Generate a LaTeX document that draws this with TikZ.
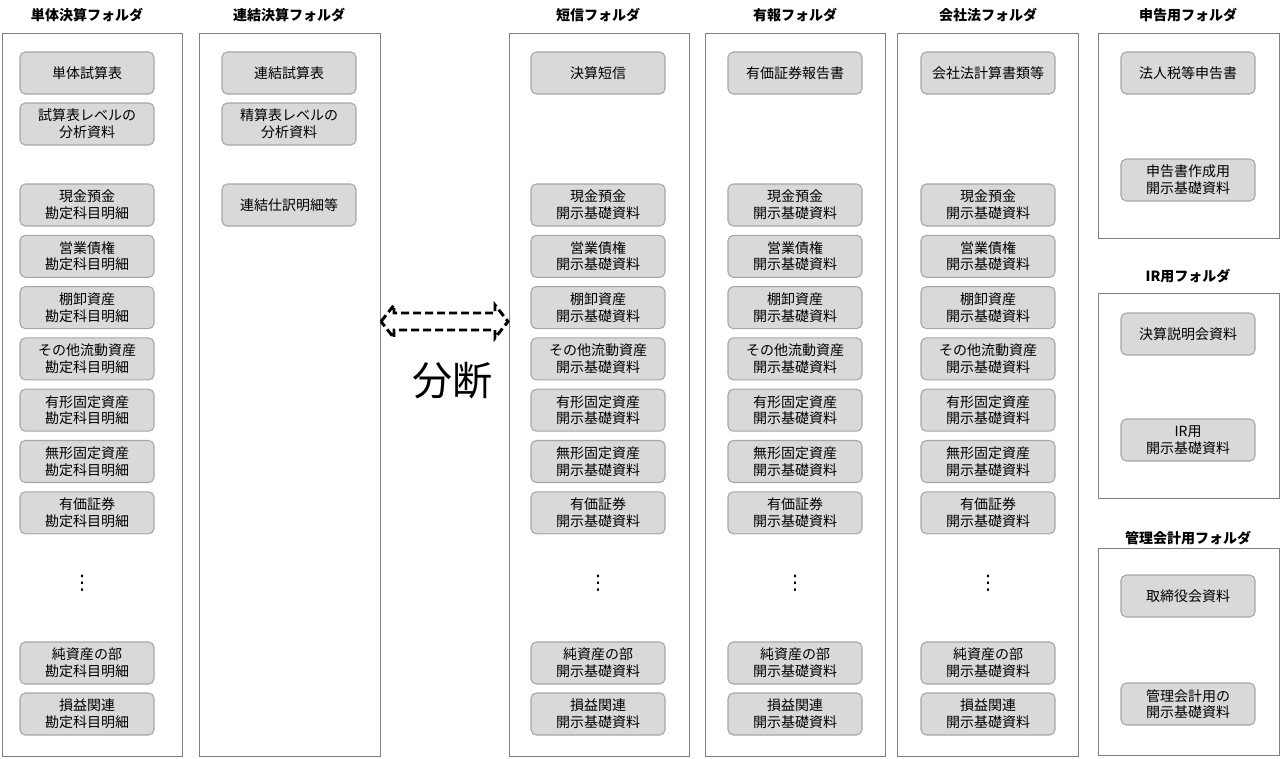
\documentclass[tikz,border=0pt]{standalone}
\usepackage{fontspec}
\newfontfamily\jp{Noto Sans CJK JP}
\newfontfamily\dvs{DejaVu Sans}
\begin{document}
\begin{tikzpicture}[x=0.75pt,y=-0.75pt,
  frame/.style={draw=black!50,line width=0.6pt},
  item/.style={draw=black!35,fill=black!15,rounded corners=4pt,minimum width=134*0.75pt,minimum height=42*0.75pt,inner sep=0pt,align=center,font=\jp\fontsize{10.5}{12.5}\selectfont,line width=0.8pt},
  ttl/.style={font=\jp\bfseries\fontsize{10.5}{12}\selectfont},
  dots/.style={font=\dvs\fontsize{15}{15}\selectfont}]
\useasboundingbox (0,0) rectangle (1280,758);
% frames
\draw[frame] (2,33) rectangle (182,756);
\draw[frame] (199,33) rectangle (380,756);
\draw[frame] (509,33) rectangle (689,756);
\draw[frame] (705,33) rectangle (885,756);
\draw[frame] (897,33) rectangle (1078,756);
\draw[frame] (1098,33) rectangle (1279,238);
\draw[frame] (1098,293) rectangle (1279,498);
\draw[frame] (1098,548) rectangle (1279,755);
% titles
\node[ttl] (t1) at (87,15) {単体決算フォルダ};
\node[ttl] (t2) at (289,15) {連結決算フォルダ};
\node[ttl] (t3) at (598,15) {短信フォルダ};
\node[ttl] (t4) at (795,15) {有報フォルダ};
\node[ttl] (t5) at (988,15) {会社法フォルダ};
\node[ttl] (t6) at (1188,15) {申告用フォルダ};
\node[ttl] (t7) at (1188,276) {IR用フォルダ};
\node[ttl] (t8) at (1188,538) {管理会計用フォルダ};
% column 1
\node[item] (a1) at (87,73) {単体試算表};
\node[item] (a2) at (87,124) {試算表レベルの\\分析資料};
\foreach \t [count=\i] in {現金預金,営業債権,棚卸資産,その他流動資産,有形固定資産,無形固定資産,有価証券}{
  \node[item] (ac\i) at (87,205+51.3*\i-51.3) {\t\\勘定科目明細};
  \node[item] (bc\i) at (598,205+51.3*\i-51.3) {\t\\開示基礎資料};
  \node[item] (cc\i) at (795,205+51.3*\i-51.3) {\t\\開示基礎資料};
  \node[item] (dc\i) at (988,205+51.3*\i-51.3) {\t\\開示基礎資料};
}
\foreach \c/\x in {a/82,b/598,c/795,d/988}{
  \node[dots] (\c dots) at (\x,583) {⋮};
}
\node[item] (a8) at (87,663) {純資産の部\\勘定科目明細};
\node[item] (a9) at (87,714) {損益関連\\勘定科目明細};
\foreach \c/\x in {b/598,c/795,d/988}{
  \node[item] (\c8) at (\x,663) {純資産の部\\開示基礎資料};
  \node[item] (\c9) at (\x,714) {損益関連\\開示基礎資料};
}
% column 2
\node[item] (e1) at (289,73) {連結試算表};
\node[item] (e2) at (289,124) {精算表レベルの\\分析資料};
\node[item] (e3) at (289,205) {連結仕訳明細等};
% tops
\node[item] (b0) at (598,73) {決算短信};
\node[item] (c0) at (795,73) {有価証券報告書};
\node[item] (d0) at (988,73) {会社法計算書類等};
% right
\node[item] (f1) at (1188,73) {法人税等申告書};
\node[item] (f2) at (1188,180) {申告書作成用\\開示基礎資料};
\node[item] (g1) at (1188,334) {決算説明会資料};
\node[item] (g2) at (1188,440) {IR用\\開示基礎資料};
\node[item] (h1) at (1188,596) {取締役会資料};
\node[item] (h2) at (1188,704) {管理会計用の\\開示基礎資料};
% arrow
\draw[line width=2.2pt,dash pattern=on 6pt off 3pt]
  (381,321.5) -- (394,305) -- (394,313) -- (495,313) -- (495,305) -- (508,321.5)
  -- (495,338) -- (495,330) -- (394,330) -- (394,338) -- cycle;
\node[font=\jp\fontsize{30}{32}\selectfont] (bd) at (452,381) {分断};
\end{tikzpicture}
\end{document}
